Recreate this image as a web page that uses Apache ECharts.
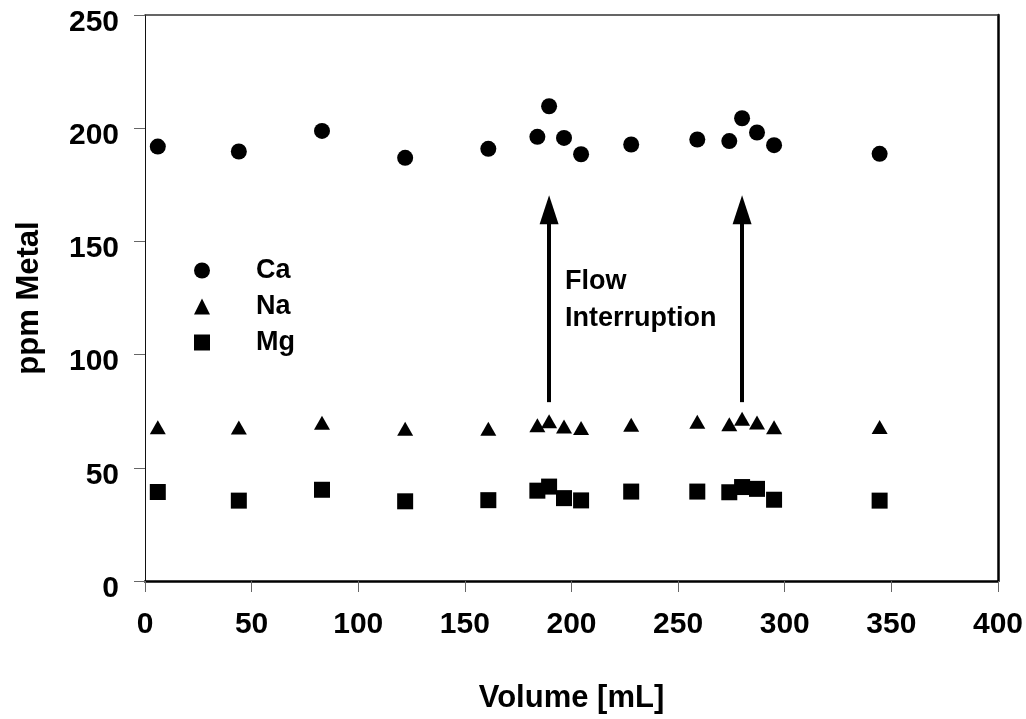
<!DOCTYPE html>
<html>
<head>
<meta charset="utf-8">
<title>ppm Metal vs Volume</title>
<script src="https://cdn.jsdelivr.net/npm/echarts@6/dist/echarts.min.js"></script>
<style>
  html, body { margin: 0; padding: 0; background: #fff; }
  #chart { width: 1026px; height: 719px; }
</style>
</head>
<body>
<div id="chart"></div>
<script>
// Effluent volume at each sample (mL)
const volume = [6, 44, 83, 122, 161, 184, 189.5, 196.5, 204.5, 228, 259, 274, 280, 287, 295, 344.5];

// Metal concentrations (ppm) at each sample
const ca = [191.9, 189.7, 198.8, 186.9, 190.9, 196.2, 209.7, 195.7, 188.5, 192.8, 195.0, 194.3, 204.4, 198.1, 192.5, 188.7];
const na = [67.9, 67.8, 69.9, 67.2, 67.3, 68.8, 70.6, 68.2, 67.6, 69.0, 70.3, 69.2, 71.7, 70.0, 67.9, 68.0];
const mg = [39.3, 35.5, 40.3, 35.2, 35.7, 39.9, 41.7, 36.6, 35.6, 39.5, 39.5, 39.2, 41.5, 40.7, 35.9, 35.5];

// Volumes at which the flow was stopped, and the span of each arrow (ppm)
const interruptions = [189.5, 280];
const arrowFrom = 79;
const arrowTo = 164;

// Axis ticks
const xTicks = { min: 0, max: 400, step: 50 };
const yTicks = { min: 0, max: 250, step: 50 };

const FONT = '"Liberation Sans", Arial, sans-serif';

function pairs(xs, ys) {
  return xs.map((x, i) => [x, ys[i]]);
}

const chart = echarts.init(document.getElementById('chart'), null, { renderer: 'canvas' });

const tickStyle = { show: true, length: 11, lineStyle: { color: '#666', width: 1 } };
const markStyle = { color: '#000', opacity: 1 };

chart.setOption({
  animation: false,
  backgroundColor: '#ffffff',
  grid: { left: 145, right: 27, top: 15, bottom: 136, containLabel: false },
  legend: {
    data: ['Ca', 'Na', 'Mg'],
    orient: 'vertical',
    left: 194,
    top: 257,
    padding: 0,
    itemWidth: 16,
    itemHeight: 16,
    itemGap: 9,
    selectedMode: false,
    itemStyle: { opacity: 1 },
    textStyle: {
      fontFamily: FONT, fontWeight: 'bold', fontSize: 27, color: '#000',
      padding: [0, 0, 0, 41]
    }
  },
  xAxis: [{
    type: 'value',
    min: xTicks.min, max: xTicks.max, interval: xTicks.step,
    name: 'Volume [mL]',
    nameLocation: 'middle',
    nameGap: 102,
    nameTextStyle: { fontFamily: FONT, fontWeight: 'bold', fontSize: 31, color: '#000' },
    axisLine: { show: true, onZero: false, lineStyle: { color: '#000', width: 2.5 } },
    axisTick: tickStyle,
    axisLabel: { fontFamily: FONT, fontWeight: 'bold', fontSize: 30, color: '#000', margin: 29 },
    splitLine: { show: false }
  }, {
    type: 'value',
    position: 'top',
    min: xTicks.min, max: xTicks.max,
    axisLine: { show: true, onZero: false, lineStyle: { color: '#333', width: 1.5 } },
    axisTick: { show: false },
    axisLabel: { show: false },
    splitLine: { show: false }
  }],
  yAxis: [{
    type: 'value',
    min: yTicks.min, max: yTicks.max, interval: yTicks.step,
    name: 'ppm Metal',
    nameLocation: 'middle',
    nameGap: 100,
    nameTextStyle: { fontFamily: FONT, fontWeight: 'bold', fontSize: 31, color: '#000' },
    axisLine: { show: true, onZero: false, lineStyle: { color: '#111', width: 1 } },
    axisTick: tickStyle,
    axisLabel: {
      fontFamily: FONT, fontWeight: 'bold', fontSize: 30, color: '#000',
      margin: 26, verticalAlign: 'top', lineHeight: 15
    },
    splitLine: { show: false }
  }, {
    type: 'value',
    position: 'right',
    min: yTicks.min, max: yTicks.max,
    axisLine: { show: true, onZero: false, lineStyle: { color: '#000', width: 2.5 } },
    axisTick: { show: false },
    axisLabel: { show: false },
    splitLine: { show: false }
  }],
  series: [
    {
      name: 'Ca', type: 'scatter', data: pairs(volume, ca),
      symbol: 'circle', symbolSize: 16,
      itemStyle: markStyle,
      emphasis: { disabled: true },
      markLine: {
        silent: true,
        symbol: ['none', 'triangle'],
        symbolSize: [19, 29],
        label: { show: false },
        lineStyle: { color: '#000', width: 4, type: 'solid', opacity: 1 },
        itemStyle: { color: '#000', opacity: 1 },
        emphasis: { disabled: true },
        data: interruptions.map(v => [{ coord: [v, arrowFrom] }, { coord: [v, arrowTo] }])
      },
      markPoint: {
        silent: true,
        symbol: 'circle',
        symbolSize: 0,
        data: [{ coord: [197, 124.2], value: 0 }],
        label: {
          show: true,
          position: [0, 0],
          formatter: 'Flow\nInterruption',
          align: 'left',
          verticalAlign: 'middle',
          lineHeight: 37.5,
          fontFamily: FONT, fontWeight: 'bold', fontSize: 27, color: '#000'
        }
      }
    },
    {
      name: 'Na', type: 'scatter', data: pairs(volume, na),
      symbol: 'triangle', symbolSize: [16, 14],
      itemStyle: markStyle,
      emphasis: { disabled: true }
    },
    {
      name: 'Mg', type: 'scatter', data: pairs(volume, mg),
      symbol: 'rect', symbolSize: 16,
      itemStyle: markStyle,
      emphasis: { disabled: true }
    }
  ]
});
</script>
</body>
</html>
